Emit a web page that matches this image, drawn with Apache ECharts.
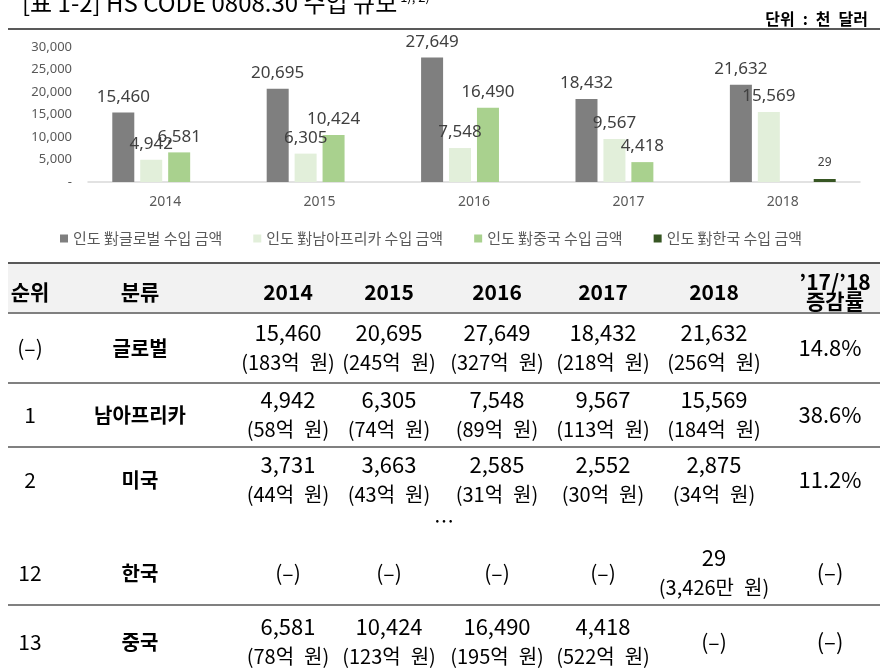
<!DOCTYPE html>
<html><head><meta charset="utf-8">
<script src="https://cdn.jsdelivr.net/npm/echarts@6/dist/echarts.min.js"></script>
<style>html,body{margin:0;padding:0;background:#fff}#c{width:885px;height:672px}</style>
</head><body><div id="c"></div>
<script>
// ---- chart data ----
const years = ['2014', '2015', '2016', '2017', '2018'];
const seriesNames = ['인도 對글로벌 수입 금액', '인도 對남아프리카 수입 금액', '인도 對중국 수입 금액', '인도 對한국 수입 금액'];
const globalImports = [15460, 20695, 27649, 18432, 21632];
const southAfricaImports = [4942, 6305, 7548, 9567, 15569];
const chinaImports = [6581, 10424, 16490, 4418, null];
const koreaImports = [null, null, null, null, 29];
const yMin = 0, yMax = 30000, yInterval = 5000;

// ---- table data ----
const tableHeaders = ['순위', '분류', '2014', '2015', '2016', '2017', '2018', '’17/’18\n증감률'];
const ranks = ['(–)', '1', '2', '12', '13'];
const partners = ['글로벌', '남아프리카', '미국', '한국', '중국'];
const usdRows = [
  [15460, 20695, 27649, 18432, 21632],
  [4942, 6305, 7548, 9567, 15569],
  [3731, 3663, 2585, 2552, 2875],
  [null, null, null, null, 29],
  [6581, 10424, 16490, 4418, null]
];
const krwRows = [
  ['183억 원', '245억 원', '327억 원', '218억 원', '256억 원'],
  ['58억 원', '74억 원', '89억 원', '113억 원', '184억 원'],
  ['44억 원', '43억 원', '31억 원', '30억 원', '34억 원'],
  [null, null, null, null, '3,426만 원'],
  ['78억 원', '123억 원', '195억 원', '522억 원', null]
];
const changeRates = ['14.8%', '38.6%', '11.2%', '(–)', '(–)'];
const titleText = '[표 1-2] HS CODE 0808.30 수입 규모';
const titleNote = '1), 2)';
const unitText = '단위 : 천 달러';

// ---- layout / style ----
const FONT_KR = "'Noto Sans CJK KR', 'Noto Sans', sans-serif";
const FONT_NUM = "'Noto Sans', 'Noto Sans CJK KR', sans-serif";
const colors = ['#7f7f7f', '#e2efda', '#a9d18e', '#375623'];
const colX = [30, 140, 288, 389, 497, 603, 714, 830];
const lineYs = [263, 313, 383, 447, 605];
const headerY = 292;
const rowY = [348, 415, 480, 573, 642];

const fmt = v => (v == null ? '' : v.toLocaleString('en-US'));
const wide = s => s.replace(/ /g, '\u2002');

const seriesData = [globalImports, southAfricaImports, chinaImports, koreaImports];
const series = seriesData.map((d, i) => ({
  type: 'bar', name: seriesNames[i], data: d,
  barWidth: 22, barGap: '27%',
  barMinHeight: i === 3 ? 3 : 0,
  itemStyle: { color: colors[i] },
  label: {
    show: true, position: 'top', distance: i === 3 ? 10 : 7,
    color: '#404040', fontFamily: FONT_NUM, fontSize: i === 3 ? 12 : 17,
    formatter: p => fmt(p.value)
  },
  emphasis: { disabled: true }
}));

function txt(x, y, text, font, opts) {
  return {
    type: 'text', x: x, y: y, silent: true,
    style: Object.assign({ text: text, font: font, fill: '#000', align: 'center', verticalAlign: 'middle' }, (opts || {}))
  };
}

const g = [];
// title (cut off at top of the picture)
g.push({
  type: 'text', x: 22, y: 15, silent: true,
  style: {
    text: '{a|' + titleText + '}{s| ' + titleNote + '}',
    verticalAlign: 'bottom', align: 'left',
    rich: {
      a: { font: '24px ' + FONT_KR, fill: '#000' },
      s: { font: '13px ' + FONT_KR, fill: '#000', verticalAlign: 'top' }
    }
  }
});
g.push(txt(868, 19, wide(unitText), 'bold 16px ' + FONT_KR, { align: 'right' }));
g.push({ type: 'line', silent: true, shape: { x1: 8, y1: 29, x2: 880, y2: 29 }, style: { stroke: '#222', lineWidth: 1.5 } });

// table
g.push({ type: 'rect', silent: true, shape: { x: 8, y: lineYs[0], width: 872, height: lineYs[1] - lineYs[0] }, style: { fill: '#f2f2f2' } });
lineYs.forEach((y, i) => {
  g.push({ type: 'line', silent: true, shape: { x1: 8, y1: y, x2: 880, y2: y }, style: { stroke: i === 0 ? '#595959' : '#808080', lineWidth: 2 } });
});
tableHeaders.forEach((h, i) => {
  g.push(txt(colX[i] + (i === 7 ? 5 : 0), headerY, h, 'bold 21px ' + FONT_KR, { lineHeight: 19 }));
});
partners.forEach((p, r) => {
  const y = rowY[r];
  g.push(txt(colX[0], y, ranks[r], '21px ' + FONT_KR));
  g.push(txt(colX[1], y, p, 'bold 20px ' + FONT_KR));
  for (let c = 0; c < 5; c++) {
    const v = usdRows[r][c];
    const k = krwRows[r][c];
    const x = colX[2 + c];
    if (v == null) {
      g.push(txt(x, y, '(–)', '21px ' + FONT_KR));
    } else {
      g.push(txt(x, y - 15, fmt(v), '22px ' + FONT_KR));
      if (k) g.push(txt(x, y + 14, '(' + wide(k) + ')', '20px ' + FONT_KR));
    }
  }
  g.push(txt(colX[7], y, changeRates[r], '22px ' + FONT_KR));
});
g.push(txt(444, 521, '…', '20px ' + FONT_KR));

const chart = echarts.init(document.getElementById('c'), null, { renderer: 'canvas' });
chart.setOption({
  animation: false,
  backgroundColor: '#fff',
  grid: { left: 88, right: 25, top: 47, bottom: 490, containLabel: false },
  legend: {
    data: seriesNames, left: 55, top: 226, icon: 'rect', itemWidth: 8, itemHeight: 8, itemGap: 31,
    textStyle: { color: '#595959', fontSize: 15, fontFamily: FONT_KR },
    selectedMode: false
  },
  xAxis: {
    type: 'category', data: years,
    axisLine: { lineStyle: { color: '#d9d9d9', width: 1.5 } },
    axisTick: { show: false },
    axisLabel: { color: '#595959', fontSize: 14, margin: 13, fontFamily: FONT_NUM }
  },
  yAxis: {
    type: 'value', min: yMin, max: yMax, interval: yInterval,
    axisLine: { show: false }, axisTick: { show: false }, splitLine: { show: false },
    axisLabel: { color: '#595959', fontSize: 13, margin: 16, fontFamily: FONT_NUM, formatter: v => (v === 0 ? '-' : fmt(v)) }
  },
  series: series,
  graphic: g
});
</script></body></html>
